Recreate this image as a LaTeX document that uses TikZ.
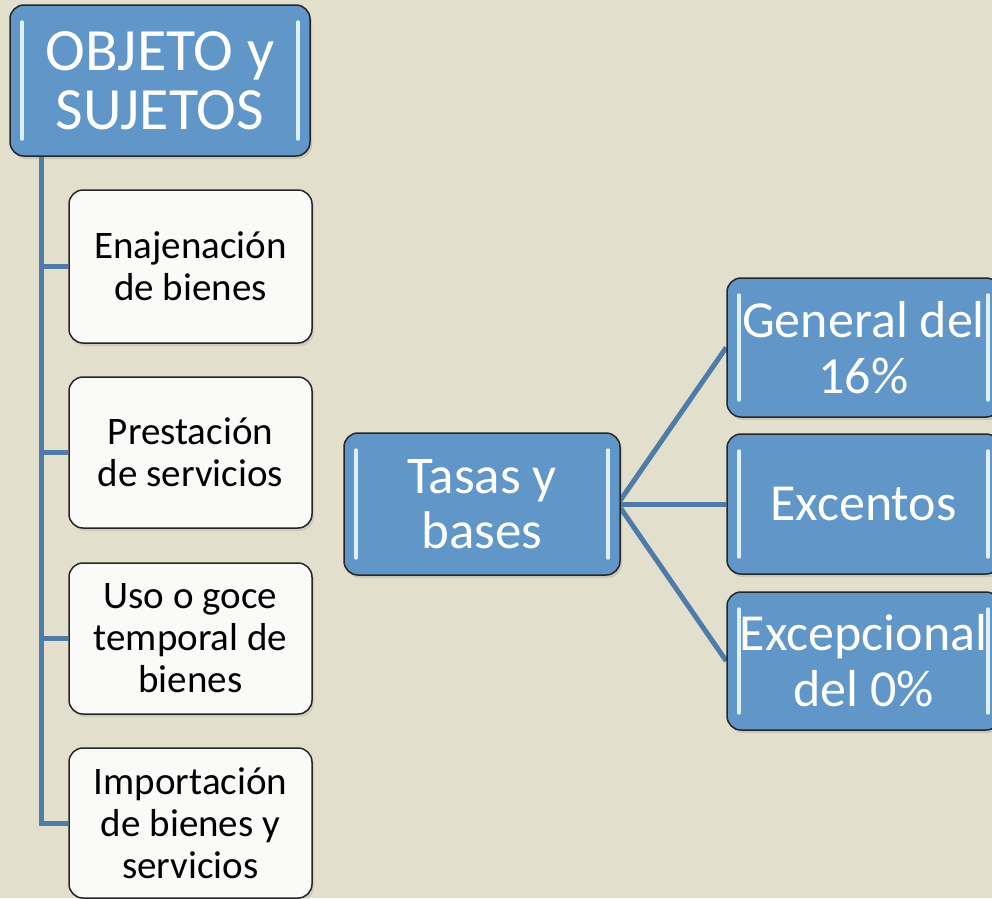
\documentclass[tikz,border=0pt]{standalone}
\usepackage{fontspec}
\setmainfont{Carlito}
\usetikzlibrary{shadows,calc,backgrounds}
\definecolor{bg}{HTML}{E2DFCC}
\definecolor{boxblue}{HTML}{6096C8}
\definecolor{linkblue}{HTML}{4F7BA9}
\definecolor{hilite}{HTML}{DDEEFC}
\definecolor{paper}{HTML}{FAFAF9}
\tikzset{
  bluebox/.style={draw=black!85, line width=1.5pt, fill=boxblue, rounded corners=14pt,
    text=white, align=center, inner sep=0pt,
    drop shadow={opacity=0.25, shadow xshift=2pt, shadow yshift=-3pt},
    path picture={
      \draw[hilite, line width=3.5pt, line cap=round]
        ($(path picture bounding box.north west)+(12pt,-17pt)$) --
        ($(path picture bounding box.south west)+(12pt,17pt)$);
      \draw[hilite, line width=3.5pt, line cap=round]
        ($(path picture bounding box.north east)+(-12pt,-17pt)$) --
        ($(path picture bounding box.south east)+(-12pt,17pt)$);
    }},
  whitebox/.style={draw=black!85, line width=1.5pt, fill=paper, rounded corners=14pt,
    align=center, inner sep=0pt, text=black,
    drop shadow={opacity=0.2, shadow xshift=2pt, shadow yshift=-3pt},
    minimum width=243pt, font=\fontsize{39}{42}\selectfont},
  rightbox/.style={bluebox, minimum width=273pt, font=\fontsize{52}{56}\selectfont},
  link/.style={draw=linkblue, line width=5pt}
}
\begin{document}
\begin{tikzpicture}[x=1pt, y=-1pt]
\useasboundingbox (0,0) rectangle (992,898);

\node[bluebox, minimum width=300pt, minimum height=151pt, font=\fontsize{60}{59}\selectfont]
  (obj) at (160,80.5) {OBJETO y\\SUJETOS};

\node[whitebox, minimum height=153pt] (ena) at (190.5,266.5) {Enajenación\\de bienes};
\node[whitebox, minimum height=151pt] (pre) at (190.5,452.5) {Prestación\\de servicios};
\node[whitebox, minimum height=151pt] (uso) at (190.5,638.5) {Uso o goce\\temporal de\\bienes};
\node[whitebox, minimum height=150pt] (imp) at (190.5,823) {Importación\\de bienes y\\servicios};

\node[bluebox, minimum width=276pt, minimum height=142pt, font=\fontsize{53}{55}\selectfont]
  (tas) at (482,504) {Tasas y\\bases};

\node[rightbox, minimum height=139pt] (gen) at (863.5,347.5) {General del\\16\%};
\node[rightbox, minimum height=140pt] (exc) at (863.5,504) {Excentos};
\node[rightbox, minimum height=138pt] (exp) at (863.5,661) {Excepcional\\del 0\%};

\begin{scope}[on background layer]
  \fill[bg] (0,0) rectangle (992,898);
  \coordinate (trunk) at ($(obj.south west)+(32pt,0)$);
  \draw[link] (trunk) |- (imp.west);
  \draw[link] (trunk |- ena.west) -- (ena.west);
  \draw[link] (trunk |- pre.west) -- (pre.west);
  \draw[link] (trunk |- uso.west) -- (uso.west);
  \coordinate (fan) at ($(tas.east)+(-3pt,0)$);
  \draw[link] (fan) -- (gen.west);
  \draw[link] (fan) -- (exc.west);
  \draw[link] (fan) -- (exp.west);
\end{scope}
\end{tikzpicture}
\end{document}
